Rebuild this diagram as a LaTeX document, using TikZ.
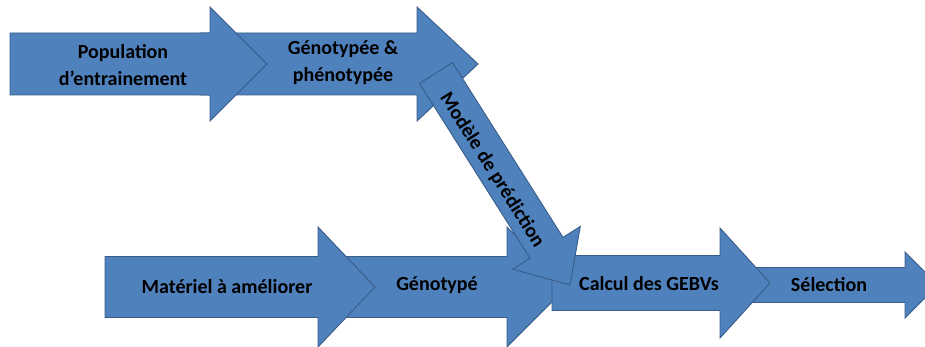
\documentclass[tikz,border=0pt]{standalone}
\usepackage{fontspec}
\setmainfont{Carlito}
\definecolor{arrowfill}{RGB}{79,129,189}
\definecolor{arrowline}{RGB}{56,93,138}
% name-free helper: left, head base, tip, y centre, body half-height, head half-height
\newcommand\blkarrow[6]{%
  \draw[blk] (#1,#4-#5) -- (#2,#4-#5) -- (#2,#4-#6) -- (#3,#4) -- (#2,#4+#6)
    -- (#2,#4+#5) -- (#1,#4+#5) -- cycle;}
\begin{document}
\begin{tikzpicture}[x=1pt,y=-1pt,
  blk/.style={fill=arrowfill, draw=arrowline, line width=0.9pt, line join=miter},
  lbl/.style={font=\bfseries\fontsize{20}{27}\selectfont, text=black, align=center, inner sep=0pt}]
\useasboundingbox (0,0) rectangle (925,347);
\clip (0,0) rectangle (925,347);
% top row
\blkarrow{200}{417}{478}{64}{31}{57}
\blkarrow{10}{210}{267}{64}{31}{57}
% bottom row
\blkarrow{330}{507}{567}{287}{30.5}{60}
\blkarrow{740}{905}{938}{285}{17.5}{33}
\blkarrow{552}{720}{770}{283}{27.5}{55}
\blkarrow{105}{318}{375}{287}{30.5}{60}
% diagonal arrow
\draw[blk] (419.5,83.4) -- (452.5,62.6) -- (563.0,237.4) -- (580.3,226.4)
  -- (570,285) -- (512.7,269.2) -- (530.0,258.2) -- cycle;
% labels
\node[lbl] (pop) at (123,65) {Population\\d’entrainement};
\node[lbl] (gp) at (343,63) {Génotypée \&\\phénotypée};
\node[lbl] (mod) at (492,170) [rotate=-57.7] {Modèle de prédiction};
\node[lbl] (mat) at (227,287) {Matériel à améliorer};
\node[lbl] (gen) at (437,285) {Génotypé};
\node[lbl] (calc) at (649,284) {Calcul des GEBVs};
\node[lbl] (sel) at (829,285) {Sélection};
\end{tikzpicture}
\end{document}
